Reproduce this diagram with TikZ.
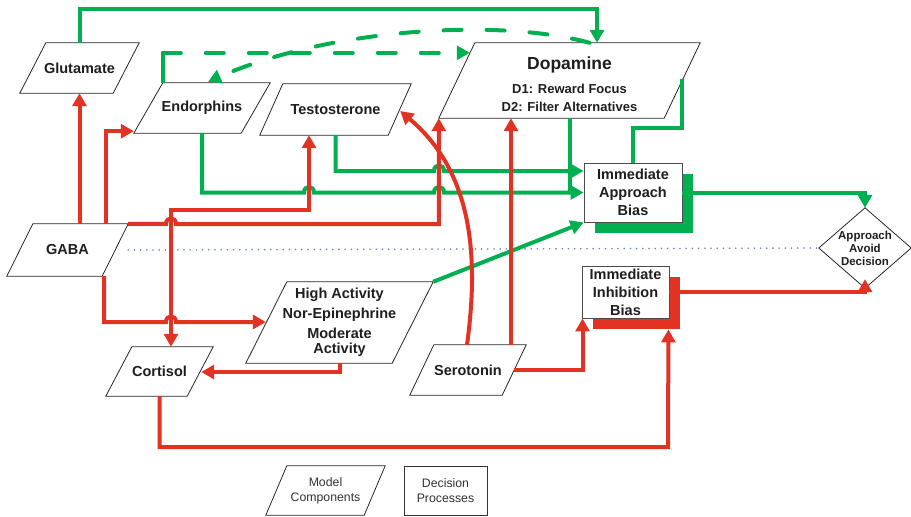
\documentclass[tikz,border=0pt]{standalone}
\usepackage{fontspec}
\setmainfont{Liberation Sans}
\usetikzlibrary{arrows.meta,calc,shadows}
\definecolor{gr}{RGB}{0,175,80}
\definecolor{rd}{RGB}{225,50,35}
\definecolor{dotc}{RGB}{110,128,178}
\definecolor{txt}{RGB}{30,30,30}
\newcommand{\paraoutline}[2]{\draw[outl] ($(#1.north west)+(#2,0)$) -- (#1.north east) -- ($(#1.south east)+(-#2,0)$) -- (#1.south west) -- cycle;}
\begin{document}
\begin{tikzpicture}[x=1pt,y=-1pt,
  pnode/.style={inner sep=0pt, align=center, text=txt, font=\fontsize{14.5}{18}\selectfont\bfseries},
  outl/.style={draw=black!85, line width=0.8pt},
  boxn/.style={pnode, draw=black!70, fill=white, line width=0.9pt},
  gl/.style={draw=gr, line width=4pt},
  rl/.style={draw=rd, line width=4pt},
  dsh/.style={dash pattern=on 18pt off 25pt, line cap=round},
  arr/.style={-{Triangle[length=13pt,width=14pt]}},
  arrs/.style={{Triangle[length=13pt,width=14pt]}-{Triangle[length=13pt,width=14pt]}},
  dotl/.style={draw=dotc, line width=1.8pt, dash pattern=on 0pt off 6.2pt, line cap=round},
  legn/.style={inner sep=0pt, align=center, text=black!80, font=\fontsize{12.3}{15}\selectfont}
]
\useasboundingbox (0,0) rectangle (911,517);

% ---------- nodes ----------
\node[pnode, minimum width=119, minimum height=50] (glu) at (79.5,68) {Glutamate};
\node[pnode, minimum width=136, minimum height=50] (endo) at (202,108) {Endorphins};
\node[pnode, minimum width=151, minimum height=51] (testo) at (335.5,109.5) {Testosterone};
\node[pnode, minimum width=261, minimum height=75] (dop) at (569.5,80.5) {};
\node[pnode, font=\fontsize{13}{18}\selectfont\bfseries] (doptext) at (569.5,84)
  {{\fontsize{17.5}{20}\selectfont Dopamine}\\[6pt]D1: Reward Focus\\D2: Filter Alternatives};
\node[pnode, minimum width=121, minimum height=52] (gaba) at (67.5,250) {GABA};
\node[pnode, minimum width=187, minimum height=81] (nor) at (339.5,322.5)
  {High Activity\\[2pt]Nor-Epinephrine\\[2pt]Moderate\\[-3pt]Activity};
\node[pnode, minimum width=107, minimum height=49] (cort) at (159.5,371.5) {Cortisol};
\node[pnode, minimum width=116, minimum height=50] (sero) at (468,370) {Serotonin};
\node[legn, minimum width=119, minimum height=49] (mc) at (325.5,490.5) {Model\\Components};
\node[legn, draw=black!80, line width=0.8pt, minimum width=83, minimum height=49] (dp) at (445.5,490.5) {Decision\\Processes};

\paraoutline{glu}{26}
\paraoutline{endo}{29}
\paraoutline{testo}{23}
\paraoutline{dop}{36}
\paraoutline{gaba}{26}
\paraoutline{nor}{41}
\paraoutline{cort}{26}
\paraoutline{sero}{24}
\paraoutline{mc}{21}

\node[boxn, minimum width=98, minimum height=59,
  drop shadow={shadow xshift=11pt, shadow yshift=-11pt, fill=gr, opacity=1}] (iab) at (633,192.5)
  {Immediate\\Approach\\Bias};
\node[boxn, minimum width=87, minimum height=52,
  drop shadow={shadow xshift=11pt, shadow yshift=-11pt, fill=rd, opacity=1}] (iib) at (625.5,292)
  {Immediate\\Inhibition\\Bias};

\node[pnode, minimum width=92, minimum height=80, font=\fontsize{11.5}{13}\selectfont\bfseries] (dia) at (865,248)
  {Approach\\Avoid\\Decision};
\draw[outl] (dia.north) -- (dia.east) -- (dia.south) -- (dia.west) -- cycle;

% ---------- dotted divider ----------
\draw[dotl] (gaba.east) -- (dia.west);

% ---------- green connectors ----------
\draw[gl,arr] (glu.north) -- ++(0,-34) -| ($(dop.north)+(27.5,0)$);
\draw[gl] ($(endo.north west)+(29,0)$) -- ++(0,-30) coordinate (dstart);
\draw[gl,dsh,arr] (dstart) -- ($(dop.north west)+(31,10)$);
\draw[gl,dsh,arr] ($(dop.north)+(20,0)$) .. controls (500,18) and (330,28) .. ($(endo.north)+(6,-1)$);
\draw[gl,arr] (endo.south) -- (202,192.5) -- (304,192.5) .. controls (304,185) and (314,185) .. (314,192.5)
  -- (434,192.5) .. controls (434,185) and (444,185) .. (444,192.5) -- (iab.west);
\draw[gl,arr] (testo.south) -- (335.5,171) -- (434,171) .. controls (434,163.5) and (444,163.5) .. (444,171)
  -- ($(iab.west)+(0,-21.5)$);
\draw[gl] (dop.south) -- (569.5,192.5);
\draw[gl] ($(dop.east)+(-18,-1.5)$) -- ++(0,49) -| (iab.north);
\draw[gl,arr] (iab.east) -| (dia.north);
\draw[gl,arr] (nor.north east) -- (iab.south west);

% ---------- red connectors ----------
\draw[rl,arr] ($(gaba.north)+(12,0)$) -- (glu.south);
\draw[rl,arr] ($(gaba.north)+(38.5,0)$) |- ($(endo.south west)+(0,-2)$);
\draw[rl,arr] (gaba.north east) -- (166,224) .. controls (166,216.5) and (176,216.5) .. (176,224)
  -- (439,224) -- (dop.south west);
\draw[rl,arrs] ($(cort.north)+(11.5,0)$) -- (171,210) -- (309,210) -- ($(testo.south)+(-26.5,0)$);
\draw[rl,arr] ($(gaba.south east)+(-24,0)$) -- (104,322) -- (166,322) .. controls (166,314.5) and (176,314.5) .. (176,322)
  -- ($(nor.west)+(20,-0.5)$);
\draw[rl,arr] (nor.south) -- (339.5,372) -- ($(cort.east)+(-12,0.5)$);
\draw[rl,arr] (cort.south) |- (668,447) -- ($(iib.south east)+(-1,11)$);
\draw[rl,arr] ($(sero.east)+(-12,0)$) -| ($(iib.south west)+(1,0)$);
\draw[rl,arr] ($(sero.north)+(43,0)$) -- ($(dop.south)+(-58.5,0)$);
\draw[rl,arr] ($(sero.north)+(-1,0)$) .. controls (480,250) and (470,170) .. ($(testo.east)+(-11,1.5)$);
\draw[rl,arr] (iib.east) -| ($(dia.south)+(0,-9)$);
\end{tikzpicture}
\end{document}
